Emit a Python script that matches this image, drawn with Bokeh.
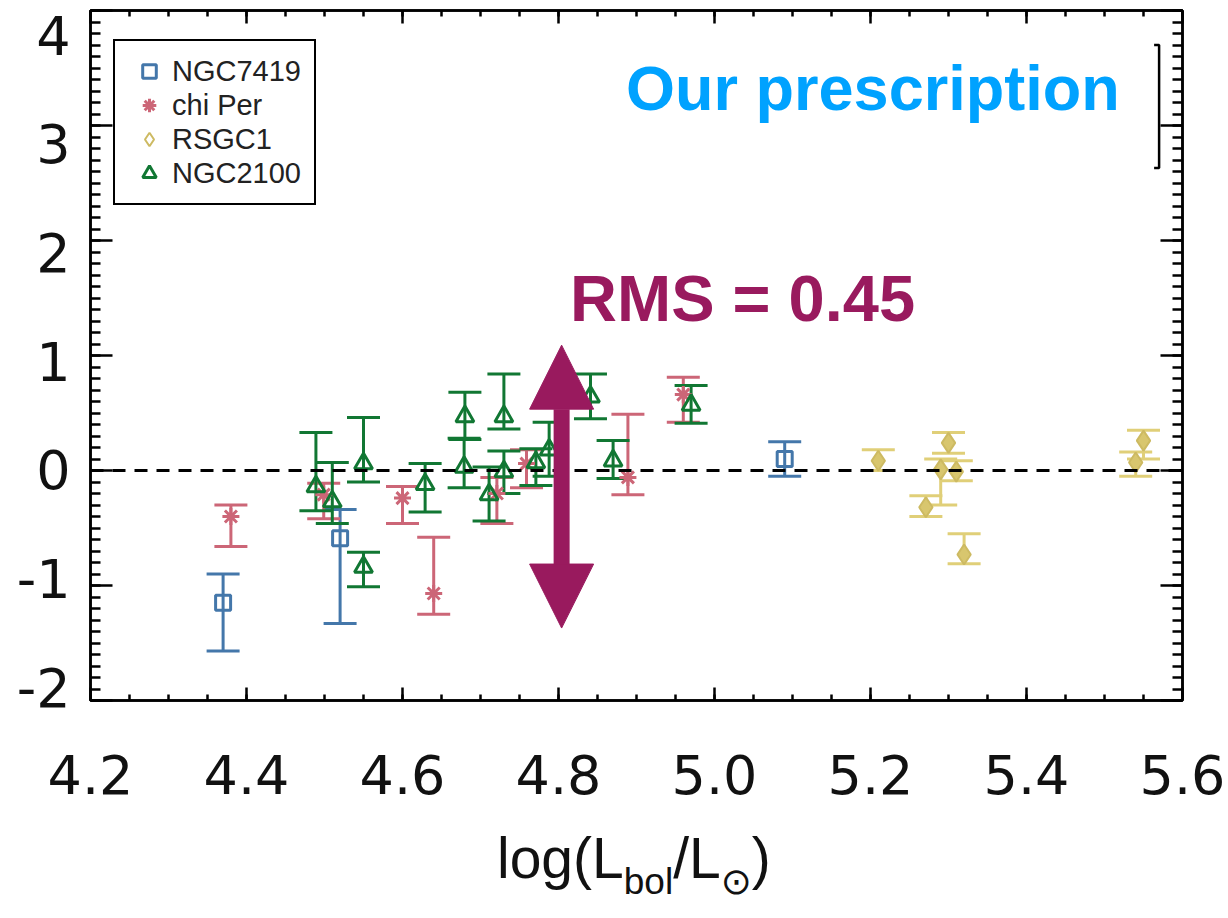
from bokeh.plotting import figure
from bokeh.layouts import column
from bokeh.models import (ColumnDataSource, Whisker, TeeHead, Span, Label, Legend, LegendItem,
                          LinearAxis, Range1d, SingleIntervalTicker, FixedTicker, Arrow,
                          NormalHead, PrintfTickFormatter, CustomJSTickFormatter, Div)
from bokeh.embed import file_html
from bokeh.resources import INLINE

# ---------------- data ----------------
ngc7419_x = [4.370, 4.520, 5.090]
ngc7419_y = [-1.15, -0.59, 0.10]
ngc7419_hi = [-0.90, -0.34, 0.25]
ngc7419_lo = [-1.57, -1.33, -0.05]

chiper_x = [4.380, 4.499, 4.600, 4.640, 4.721, 4.759, 4.889, 4.960]
chiper_y = [-0.40, -0.21, -0.24, -1.07, -0.20, 0.06, -0.06, 0.66]
chiper_hi = [-0.30, -0.11, -0.14, -0.58, -0.06, 0.18, 0.49, 0.81]
chiper_lo = [-0.66, -0.42, -0.46, -1.25, -0.46, -0.15, -0.21, 0.42]

rsgc1_x = [5.210, 5.300, 5.290, 5.310, 5.271, 5.320, 5.550, 5.540]
rsgc1_y = [0.085, 0.24, 0.01, -0.01, -0.32, -0.73, 0.26, 0.07]
rsgc1_hi = [0.18, 0.33, 0.10, 0.085, -0.22, -0.55, 0.35, 0.16]
rsgc1_lo = [0.00, 0.15, -0.30, -0.09, -0.40, -0.81, 0.10, -0.05]

ngc2100_x = [4.489, 4.510, 4.550, 4.550, 4.629, 4.679, 4.680, 4.730, 4.730,
             4.711, 4.771, 4.788, 4.841, 4.870, 4.970]
ngc2100_y = [-0.14, -0.27, 0.06, -0.84, -0.12, 0.03, 0.47, 0.47, -0.01,
             -0.21, 0.07, 0.18, 0.64, 0.085, 0.57]
ngc2100_hi = [0.33, 0.07, 0.46, -0.71, 0.06, 0.28, 0.68, 0.84, 0.17,
              0.03, 0.19, 0.42, 0.84, 0.26, 0.74]
ngc2100_lo = [-0.35, -0.46, -0.10, -1.01, -0.36, -0.15, 0.27, 0.36, -0.20,
              -0.44, -0.13, -0.05, 0.45, -0.07, 0.41]

series_names = ["NGC7419", "chi Per", "RSGC1", "NGC2100"]

# typical-error bracket (top right) and RMS arrow
bracket_x = [5.5636, 5.570, 5.570, 5.5636]
bracket_y = [3.70, 3.70, 2.63, 2.63]
arrow_x = 4.804
arrow_top = 1.09
arrow_bottom = -1.37

x_ticks = [4.2, 4.4, 4.6, 4.8, 5.0, 5.2, 5.4, 5.6]
x_minor_ticks = [4.2 + 0.05 * i for i in range(29)]
y_ticks = [-2, -1, 0, 1, 2, 3, 4]

# ---------------- styling ----------------
BLUE = "#4477AA"
RED = "#CC6677"
GREEN = "#117733"
PURPLE = "#991A5E"
SKY = "#00A2FF"
TICK_FONT = "DejaVu Sans"
TEXT_FONT = "Liberation Sans"

p = figure(width=1228, height=830, x_range=Range1d(4.2, 5.6), y_range=Range1d(-2.0, 4.0),
           output_backend="svg", toolbar_location=None,
           x_axis_location=None, y_axis_location=None,
           min_border_left=90, min_border_right=46, min_border_top=10, min_border_bottom=130)
p.grid.visible = False
p.outline_line_color = "black"
p.outline_line_width = 2.5
p.background_fill_color = "white"
p.border_fill_color = "white"

# extra range so the y tick labels sit where the reference prints them
p.extra_y_ranges = {"ylab": Range1d(-2.121, 4.226)}

blank = CustomJSTickFormatter(code="return ''")


def style_axis(ax, tick_in, minor_in):
    ax.axis_line_color = "black"
    ax.axis_line_width = 2.5
    ax.major_tick_in = tick_in
    ax.major_tick_out = 0
    ax.minor_tick_in = minor_in
    ax.minor_tick_out = 0
    ax.major_tick_line_color = "black"
    ax.major_tick_line_width = 2.5
    ax.minor_tick_line_color = "black"
    ax.minor_tick_line_width = 2.5


def hide_labels(ax):
    ax.formatter = blank
    ax.major_label_standoff = 0


xb = LinearAxis(ticker=FixedTicker(ticks=x_ticks, minor_ticks=x_minor_ticks),
                formatter=PrintfTickFormatter(format="%.1f"))
style_axis(xb, 13, 6)
xb.major_label_text_font = TICK_FONT
xb.major_label_text_font_size = "54px"
xb.major_label_text_color = "#111111"
xb.major_label_standoff = 54
p.add_layout(xb, "below")

xt = LinearAxis(ticker=FixedTicker(ticks=x_ticks, minor_ticks=x_minor_ticks))
style_axis(xt, 13, 6)
hide_labels(xt)
p.add_layout(xt, "above")

yl = LinearAxis(ticker=SingleIntervalTicker(interval=1, num_minor_ticks=10))
style_axis(yl, 22, 10)
hide_labels(yl)
p.add_layout(yl, "left")

ylab = LinearAxis(y_range_name="ylab", ticker=FixedTicker(ticks=y_ticks),
                  formatter=PrintfTickFormatter(format="%d"))
ylab.axis_line_color = None
ylab.major_tick_line_color = None
ylab.minor_tick_line_color = None
ylab.major_tick_in = 0
ylab.major_tick_out = 0
ylab.major_label_text_font = TICK_FONT
ylab.major_label_text_font_size = "54px"
ylab.major_label_text_color = "#111111"
ylab.major_label_standoff = 20
p.add_layout(ylab, "left")

yr = LinearAxis(ticker=SingleIntervalTicker(interval=1, num_minor_ticks=10))
style_axis(yr, 22, 10)
hide_labels(yr)
p.add_layout(yr, "right")

# zero line
p.add_layout(Span(location=0, dimension="width", line_color="black",
                  line_width=3, line_dash="13 9"))


def errbars(xs, hi, lo, color):
    src = ColumnDataSource(dict(x=xs, hi=hi, lo=lo))
    w = Whisker(source=src, base="x", upper="hi", lower="lo", dimension="height",
                line_color=color, line_width=3,
                upper_head=TeeHead(size=33, line_color=color, line_width=3),
                lower_head=TeeHead(size=33, line_color=color, line_width=3))
    p.add_layout(w)


errbars(ngc7419_x, ngc7419_hi, ngc7419_lo, BLUE)
errbars(chiper_x, chiper_hi, chiper_lo, RED)
errbars(rsgc1_x, rsgc1_hi, rsgc1_lo, "#E0CF78")
errbars(ngc2100_x, ngc2100_hi, ngc2100_lo, GREEN)

r_sq = p.scatter(ngc7419_x, ngc7419_y, marker="square", size=15, fill_color=None,
                 line_color=BLUE, line_width=3)
r_as = p.scatter(chiper_x, chiper_y, marker="asterisk", size=17,
                 line_color=RED, line_width=3)
p.scatter(rsgc1_x, rsgc1_y, marker="diamond", size=20, fill_color="#D8C66E",
          line_color=None)
r_di = p.scatter(rsgc1_x, rsgc1_y, marker="diamond", size=20, fill_color=None,
                 line_color="#CDBA62", line_width=2)
r_tr = p.scatter(ngc2100_x, ngc2100_y, marker="triangle", size=18, fill_color=None,
                 line_color=GREEN, line_width=3)

# typical error bracket
p.line(bracket_x, bracket_y, line_color="black", line_width=2.5)

# RMS arrow
p.add_layout(Arrow(x_start=arrow_x, y_start=arrow_bottom, x_end=arrow_x, y_end=arrow_top,
                   line_color=PURPLE, line_width=16,
                   start=NormalHead(size=64, fill_color=PURPLE, line_color=PURPLE, line_width=1),
                   end=NormalHead(size=64, fill_color=PURPLE, line_color=PURPLE, line_width=1)))

p.add_layout(Label(x=5.036, y=1.50, text="RMS = 0.45", text_font=TEXT_FONT,
                   text_font_style="bold", text_font_size="65px", text_color=PURPLE,
                   text_align="center", text_baseline="middle"))
p.add_layout(Label(x=5.203, y=3.33, text="Our prescription", text_font=TEXT_FONT,
                   text_font_style="bold", text_font_size="63px", text_color=SKY,
                   text_align="center", text_baseline="middle"))

legend = Legend(items=[LegendItem(label=series_names[0], renderers=[r_sq]),
                       LegendItem(label=series_names[1], renderers=[r_as]),
                       LegendItem(label=series_names[2], renderers=[r_di]),
                       LegendItem(label=series_names[3], renderers=[r_tr])],
                location=(23, 495))
legend.border_line_color = "black"
legend.border_line_width = 2
legend.border_line_alpha = 1
legend.background_fill_color = "white"
legend.background_fill_alpha = 1
legend.label_text_font = TEXT_FONT
legend.label_text_font_size = "29px"
legend.label_text_color = "#222222"
legend.glyph_width = 42
legend.glyph_height = 34
legend.label_height = 34
legend.spacing = 0
legend.padding = 13
legend.label_standoff = 2
legend.margin = 0
p.add_layout(legend)

# x-axis title  log(L_bol / L_sun)  as real text below the plot
title_html = (
    '<div style="position:relative;width:1228px;height:88px;">'
    '<span style="position:absolute;left:497px;top:0px;white-space:nowrap;'
    'font-family:\'Liberation Sans\';font-size:57px;line-height:57px;color:#111111;">'
    'log(L<span style="font-size:37px;position:relative;top:16px;">bol</span>/L'
    '<span style="font-size:37px;position:relative;top:16px;font-family:\'DejaVu Sans\';">'
    '\u2299</span>)</span></div>'
)
xtitle = Div(text=title_html, width=1228, height=88, margin=0)

layout = column(p, xtitle, spacing=0)

open("out.html", "w").write(file_html(layout, INLINE))
